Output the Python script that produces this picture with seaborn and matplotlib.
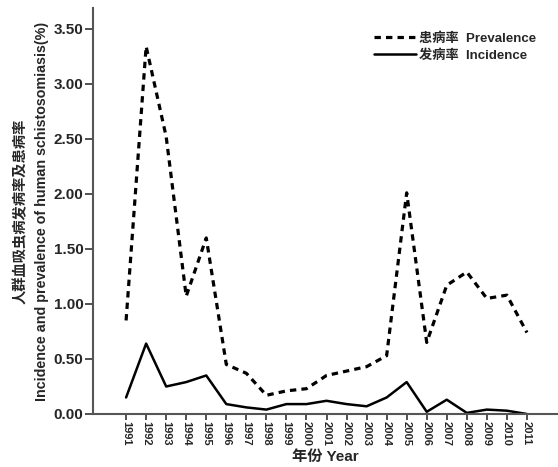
import numpy as np
import pandas as pd
import matplotlib
matplotlib.use('Agg')
import matplotlib.pyplot as plt
import seaborn as sns
from matplotlib.lines import Line2D

years = list(range(1991, 2012))
prevalence = [0.85, 3.34, 2.52, 1.07, 1.60, 0.45, 0.37, 0.17, 0.21, 0.23, 0.35,
              0.39, 0.43, 0.53, 2.01, 0.65, 1.17, 1.29, 1.05, 1.08, 0.74]
incidence = [0.15, 0.64, 0.25, 0.29, 0.35, 0.09, 0.06, 0.04, 0.09, 0.09, 0.12,
             0.09, 0.07, 0.15, 0.29, 0.02, 0.13, 0.01, 0.04, 0.03, 0.00]
ytick_vals = [0.0, 0.5, 1.0, 1.5, 2.0, 2.5, 3.0, 3.5]

df = pd.DataFrame({'year': years, 'prevalence': prevalence, 'incidence': incidence})

sns.set_style('white')
plt.rcParams['font.family'] = ['Liberation Sans', 'Noto Sans CJK SC', 'DejaVu Sans']
plt.rcParams['font.weight'] = 'bold'

fig = plt.figure(figsize=(5.58, 4.67), dpi=100)
ax = fig.add_axes([0.1667, 0.1135, 0.8333, 0.8695])

dash = (0, (2.0, 1.6))
sns.lineplot(data=df, x='year', y='prevalence', ax=ax, color='black', lw=2.3, linestyle=dash)
sns.lineplot(data=df, x='year', y='incidence', ax=ax, color='black', lw=1.8)

ax.set_xlim(1989.35, 2012.55)
ax.set_ylim(0, 3.69)
ax.set_xticks(years)
ax.set_xticklabels([str(y) for y in years], rotation=270, fontsize=8, fontweight='bold')
ax.set_yticks(ytick_vals)
ax.set_yticklabels(['%.2f' % v for v in ytick_vals], fontsize=11, fontweight='bold')

for s in ['top', 'right']:
    ax.spines[s].set_visible(False)
for s in ['left', 'bottom']:
    ax.spines[s].set_color('#555555')
    ax.spines[s].set_linewidth(1.5)
ax.tick_params(axis='both', direction='out', length=6, width=1.2, color='#333333',
               bottom=True, left=True, pad=1)
ax.tick_params(axis='x', length=4)

ax.set_xlabel('年份 Year', fontsize=11, fontweight='bold', labelpad=3)
ax.set_ylabel('人群血吸虫病发病率及患病率\nIncidence and prevalence of human schistosomiasis(%)',
              fontsize=10.3, fontweight='bold', labelpad=3, linespacing=1.7)

handles = [Line2D([], [], color='black', lw=2.3, linestyle=dash),
           Line2D([], [], color='black', lw=1.8)]
ax.legend(handles, ['患病率  Prevalence', '发病率  Incidence'], frameon=False,
          loc='upper right', bbox_to_anchor=(0.978, 0.97), handlelength=3.2,
          handletextpad=0.2, labelspacing=0.35, prop={'weight': 'bold', 'size': 9.5})

fig.savefig('out.png', dpi=100)
